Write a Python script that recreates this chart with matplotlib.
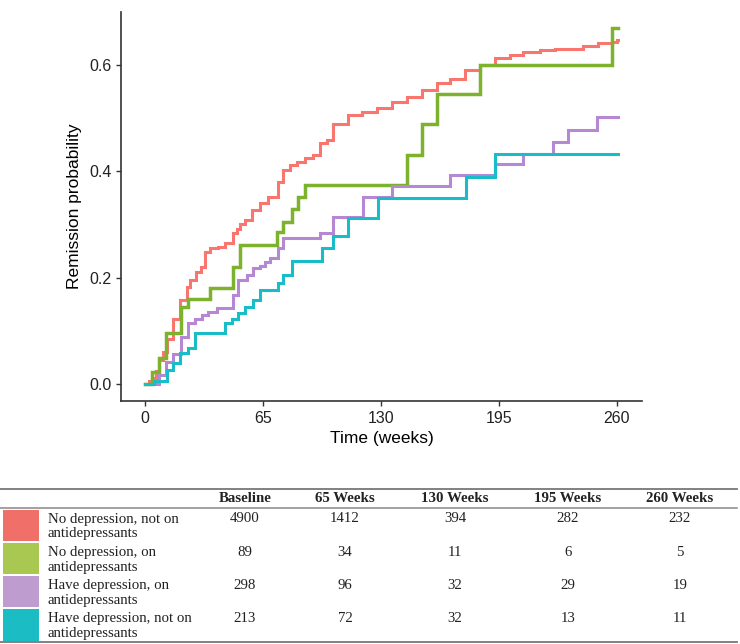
import matplotlib
matplotlib.use("Agg")
import matplotlib.pyplot as plt
from matplotlib.patches import Rectangle

# step curves (time in weeks, remission probability)
red_t = [0, 2, 4, 6, 8, 10, 12, 15.5, 19.3, 23, 25, 28, 31, 33, 36, 40, 44, 48.5, 50.5, 52.5, 55,
         58.8, 63.4, 67.9, 73.5, 76.2, 79.9, 83.6, 88.2, 92.7, 96.4, 100.1, 103.8, 112, 119.4, 127.7,
         135.9, 144.2, 152.4, 160.7, 168, 176.3, 184.6, 192.8, 201.1, 208.4, 217.6, 226, 234.2, 241.5,
         249.7, 257.1, 260, 260.8]
red_p = [0, 0.005, 0.012, 0.025, 0.045, 0.06, 0.085, 0.123, 0.158, 0.183, 0.195, 0.211, 0.22, 0.248,
         0.255, 0.258, 0.265, 0.283, 0.292, 0.300, 0.308, 0.327, 0.340, 0.352, 0.380, 0.402, 0.411,
         0.417, 0.424, 0.430, 0.452, 0.458, 0.488, 0.505, 0.511, 0.518, 0.530, 0.540, 0.552, 0.566,
         0.574, 0.590, 0.599, 0.612, 0.618, 0.624, 0.627, 0.629, 0.630, 0.635, 0.640, 0.643, 0.647, 0.647]

green_t = [0, 3.7, 7.7, 11.6, 19.8, 23.9, 35.8, 48.7, 52.3, 72.5, 76.2, 80.8, 84.5, 88.2, 144.2,
           152.4, 160.7, 184.6, 257.1, 260.4]
green_p = [0, 0.023, 0.049, 0.096, 0.145, 0.159, 0.180, 0.220, 0.262, 0.286, 0.305, 0.328, 0.351,
           0.374, 0.431, 0.488, 0.544, 0.600, 0.668, 0.668]

purple_t = [0, 7.9, 11.6, 15.6, 19.7, 23.9, 27.5, 31.2, 34.9, 39.5, 48.7, 51.4, 56, 59.7, 63.4, 66.1,
            68.9, 73.5, 76.2, 96.4, 103.8, 120.3, 135.9, 168, 192.8, 208.4, 224.5, 232.8, 248.8, 260.4]
purple_p = [0, 0.017, 0.042, 0.056, 0.089, 0.114, 0.123, 0.130, 0.136, 0.142, 0.167, 0.195, 0.205,
            0.217, 0.222, 0.230, 0.236, 0.255, 0.274, 0.283, 0.314, 0.352, 0.372, 0.392, 0.414, 0.433,
            0.455, 0.478, 0.501, 0.501]

cyan_t = [0, 5, 11.9, 15.6, 19.3, 23.9, 27.5, 44.1, 47.8, 51.4, 55.1, 59.7, 63.4, 73.5, 76.2, 80.8,
          97.3, 103.8, 112, 128.5, 176.9, 192.8, 260.4]
cyan_p = [0, 0.006, 0.026, 0.039, 0.058, 0.067, 0.095, 0.114, 0.123, 0.133, 0.145, 0.158, 0.177,
          0.189, 0.205, 0.232, 0.256, 0.279, 0.311, 0.349, 0.389, 0.433, 0.433]

# number at risk table
groups = ["No depression, not on\nantidepressants",
          "No depression, on\nantidepressants",
          "Have depression, on\nantidepressants",
          "Have depression, not on\nantidepressants"]
headers = ["Baseline", "65 Weeks", "130 Weeks", "195 Weeks", "260 Weeks"]
at_risk = [[4900, 1412, 394, 282, 232],
           [89, 34, 11, 6, 5],
           [298, 96, 32, 29, 19],
           [213, 72, 32, 13, 11]]

line_cols = ["#F8766D", "#7CB22E", "#B687D2", "#19BDC8"]
swatch_cols = ["#F07069", "#A8C852", "#BE9CCF", "#1BBCC4"]

W, H = 740, 644
fig = plt.figure(figsize=(W / 100, H / 100), dpi=100)

ax = fig.add_axes([121 / W, 1 - 401 / H, (642 - 121) / W, (401 - 12) / H])
curves = [(red_t, red_p), (green_t, green_p), (purple_t, purple_p), (cyan_t, cyan_p)]
widths = [2.2, 2.5, 2.2, 2.2]
for (t, p), c, lw in zip(curves, line_cols, widths):
    ax.step(t, p, where="post", color=c, lw=lw, solid_joinstyle="miter")

ax.set_xlim(-13.2, 273.8)
ax.set_ylim(-0.032, 0.699)
ax.set_xticks([0, 65, 130, 195, 260])
ax.set_yticks([0, 0.2, 0.4, 0.6])
ax.set_yticklabels(["0.0", "0.2", "0.4", "0.6"])
for s in ["top", "right"]:
    ax.spines[s].set_visible(False)
for s in ["left", "bottom"]:
    ax.spines[s].set_color("#333333")
    ax.spines[s].set_linewidth(1.2)
ax.tick_params(direction="out", length=3.5, width=1.0, color="#333333",
               labelsize=11.5, labelcolor="#222222", pad=3.5)
for lab in ax.get_xticklabels() + ax.get_yticklabels():
    lab.set_family("Liberation Sans")
ax.set_xlabel("Time (weeks)", family="Liberation Sans", fontsize=12.5, labelpad=4)
ax.set_ylabel("Remission probability", family="Liberation Sans", fontsize=12.5, labelpad=5)

# table drawn in pixel space
tab = fig.add_axes([0, 0, 1, 1])
tab.set_xlim(0, W)
tab.set_ylim(H, 0)
tab.axis("off")
tab.patch.set_visible(False)

col_x = [245, 345, 455, 568, 680]
tab.plot([0, 737], [489, 489], color="#777777", lw=1.3)
tab.plot([0, 737], [508, 508], color="#888888", lw=1.1)
tab.plot([0, 737], [642, 642], color="#777777", lw=1.3)
for x, h in zip(col_x, headers):
    tab.text(x, 498.5, h, ha="center", va="center", family="Liberation Serif",
             fontsize=10.7, fontweight="bold", color="#222222")

row_top = 508.5
row_h = 33.3
for i, (g, vals) in enumerate(zip(groups, at_risk)):
    top = row_top + i * row_h
    tab.add_patch(Rectangle((3, top + 1), 36, row_h - 2, color=swatch_cols[i], lw=0))
    l1, l2 = g.split("\n")
    tab.text(48, top + 10.5, l1, ha="left", va="center", family="Liberation Serif",
             fontsize=10.7, color="#222222")
    tab.text(48, top + 25.5, l2, ha="left", va="center", family="Liberation Serif",
             fontsize=10.7, color="#222222")
    for x, v in zip(col_x, vals):
        tab.text(x, top + 10.5, str(v), ha="center", va="center", family="Liberation Serif",
                 fontsize=10.7, color="#222222")

fig.savefig("out.png", dpi=100)
